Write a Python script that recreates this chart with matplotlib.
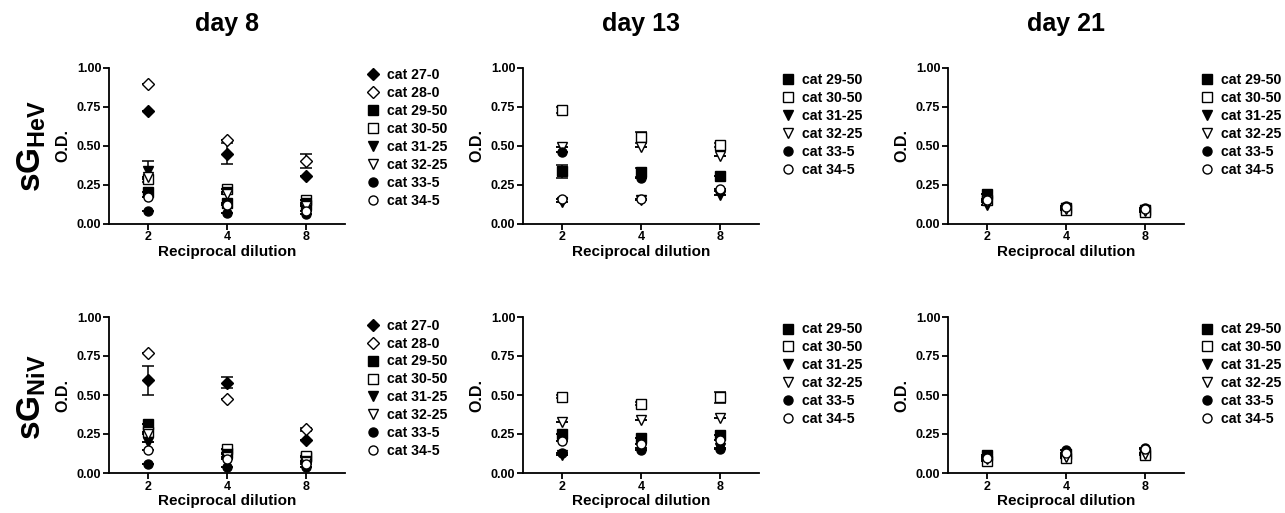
import matplotlib
matplotlib.use("Agg")
import matplotlib.pyplot as plt

plt.rcParams["font.family"] = ["Liberation Sans", "DejaVu Sans"]
plt.rcParams["font.weight"] = "bold"
plt.rcParams["mathtext.fontset"] = "custom"
plt.rcParams["mathtext.bf"] = "Liberation Sans:bold"
plt.rcParams["mathtext.rm"] = "Liberation Sans:bold"

# ---- data -------------------------------------------------------------
DILUTIONS = ["2", "4", "8"]

CATS_DAY8 = ["cat 27-0", "cat 28-0", "cat 29-50", "cat 30-50",
             "cat 31-25", "cat 32-25", "cat 33-5", "cat 34-5"]
CATS_LATE = ["cat 29-50", "cat 30-50", "cat 31-25", "cat 32-25",
             "cat 33-5", "cat 34-5"]

# O.D. per cat (rows) at reciprocal dilution 2, 4, 8 (columns)
HEV_DAY8 = [[0.725, 0.45, 0.305],
            [0.895, 0.535, 0.405],
            [0.20, 0.13, 0.12],
            [0.285, 0.22, 0.15],
            [0.335, 0.20, 0.13],
            [0.30, 0.19, 0.11],
            [0.08, 0.065, 0.06],
            [0.17, 0.12, 0.08]]
HEV_DAY8_ERR = [[0, 0.065, 0], [0, 0, 0.045], [0, 0, 0], [0, 0, 0],
                [0.065, 0, 0], [0, 0, 0], [0, 0, 0], [0, 0, 0]]

HEV_DAY13 = [[0.335, 0.33, 0.305],
             [0.73, 0.555, 0.505],
             [0.14, 0.15, 0.185],
             [0.49, 0.49, 0.435],
             [0.46, 0.29, 0.21],
             [0.155, 0.155, 0.225]]
HEV_DAY13_ERR = [[0.04, 0.03, 0], [0.02, 0.035, 0.01], [0, 0, 0],
                 [0, 0, 0], [0, 0, 0], [0, 0, 0]]

HEV_DAY21 = [[0.19, 0.10, 0.09],
             [0.15, 0.085, 0.075],
             [0.12, 0.10, 0.085],
             [0.14, 0.095, 0.08],
             [0.16, 0.11, 0.10],
             [0.15, 0.105, 0.095]]
HEV_DAY21_ERR = [[0, 0, 0]] * 6

NIV_DAY8 = [[0.595, 0.578, 0.21],
            [0.77, 0.477, 0.28],
            [0.315, 0.13, 0.10],
            [0.26, 0.155, 0.11],
            [0.20, 0.12, 0.08],
            [0.25, 0.10, 0.07],
            [0.06, 0.04, 0.04],
            [0.145, 0.09, 0.055]]
NIV_DAY8_ERR = [[0.093, 0.035, 0], [0, 0, 0.01], [0, 0, 0], [0, 0, 0],
                [0, 0, 0], [0, 0, 0], [0, 0, 0], [0, 0, 0]]

NIV_DAY13 = [[0.25, 0.225, 0.245],
             [0.49, 0.445, 0.485],
             [0.115, 0.16, 0.16],
             [0.33, 0.34, 0.35],
             [0.13, 0.145, 0.155],
             [0.205, 0.185, 0.21]]
NIV_DAY13_ERR = [[0, 0, 0], [0.01, 0.01, 0.035], [0, 0, 0],
                 [0, 0, 0], [0, 0, 0], [0, 0, 0]]

NIV_DAY21 = [[0.115, 0.12, 0.13],
             [0.08, 0.095, 0.115],
             [0.10, 0.11, 0.13],
             [0.09, 0.10, 0.12],
             [0.105, 0.145, 0.16],
             [0.095, 0.13, 0.155]]
NIV_DAY21_ERR = [[0, 0, 0]] * 6

# ---- styles per cat ----------------------------------------------------
STYLE = {
    "cat 27-0": ("D", "black"), "cat 28-0": ("D", "white"),
    "cat 29-50": ("s", "black"), "cat 30-50": ("s", "white"),
    "cat 31-25": ("v", "black"), "cat 32-25": ("v", "white"),
    "cat 33-5": ("o", "black"), "cat 34-5": ("o", "white"),
}
MSIZE = {"D": 6.5, "s": 6.5, "v": 7.0, "o": 6.5}

W, H = 1285, 513
fig = plt.figure(figsize=(W / 100, H / 100), dpi=100)


def px_rect(left, right, top, bottom):
    return [left / W, 1 - bottom / H, (right - left) / W, (bottom - top) / H]


COL_LEFT = [109, 523, 948]
AX_W = 236
ROWS = [(68, 223.5), (317, 473)]

panels = [
    (0, 0, CATS_DAY8, HEV_DAY8, HEV_DAY8_ERR, (1.087, 1.0)),
    (0, 1, CATS_LATE, HEV_DAY13, HEV_DAY13_ERR, (1.091, 0.965)),
    (0, 2, CATS_LATE, HEV_DAY21, HEV_DAY21_ERR, (1.066, 0.965)),
    (1, 0, CATS_DAY8, NIV_DAY8, NIV_DAY8_ERR, (1.087, 0.99)),
    (1, 1, CATS_LATE, NIV_DAY13, NIV_DAY13_ERR, (1.091, 0.965)),
    (1, 2, CATS_LATE, NIV_DAY21, NIV_DAY21_ERR, (1.066, 0.965)),
]
TITLES = ["day 8", "day 13", "day 21"]

xpos = list(range(len(DILUTIONS)))

for row, col, cats, vals, errs, leg_anchor in panels:
    top, bottom = ROWS[row]
    left = COL_LEFT[col]
    ax = fig.add_axes(px_rect(left, left + AX_W, top, bottom))
    for cat, v, e in zip(cats, vals, errs):
        mk, fc = STYLE[cat]
        ax.errorbar(xpos, v, yerr=e, fmt="none", ecolor="black",
                    elinewidth=1.1, capsize=4.5, capthick=1.1, zorder=2)
        ax.plot(xpos, v, linestyle="none", marker=mk, markersize=MSIZE[mk],
                markerfacecolor=fc, markeredgecolor="black",
                markeredgewidth=1.0, label=cat, zorder=3)
    ax.set_xlim(-0.5, 2.5)
    ax.set_ylim(0, 1.0)
    ax.set_xticks(xpos)
    ax.set_xticklabels(DILUTIONS)
    ax.set_yticks([0, 0.25, 0.5, 0.75, 1.0])
    ax.set_yticklabels(["0.00", "0.25", "0.50", "0.75", "1.00"])
    for s in ("top", "right"):
        ax.spines[s].set_visible(False)
    for s in ("left", "bottom"):
        ax.spines[s].set_linewidth(1.3)
    ax.tick_params(direction="out", length=4, width=1.3, labelsize=9,
                   pad=1.5)
    for lab in ax.get_xticklabels() + ax.get_yticklabels():
        lab.set_fontweight("bold")
    ax.set_xlabel("Reciprocal dilution", fontsize=11, fontweight="bold",
                  labelpad=1)
    ax.set_ylabel("O.D.", fontsize=11.5, fontweight="bold", labelpad=5)
    ax.legend(loc="upper left", bbox_to_anchor=leg_anchor, frameon=False,
              handlelength=1.0, handletextpad=0.5,
              labelspacing=0.28, borderpad=0, borderaxespad=0,
              prop={"weight": "bold", "size": 10.2})
    if row == 0:
        ax.set_title(TITLES[col], fontsize=18, fontweight="bold", pad=27)

fig.text(32 / W, 1 - 146 / H, r"$\mathbf{sG}_{\mathbf{HeV}}$", rotation=90,
         ha="center", va="center", fontsize=24)
fig.text(32 / W, 1 - 397 / H, r"$\mathbf{sG}_{\mathbf{NiV}}$", rotation=90,
         ha="center", va="center", fontsize=24)

fig.savefig("out.png", dpi=100)
